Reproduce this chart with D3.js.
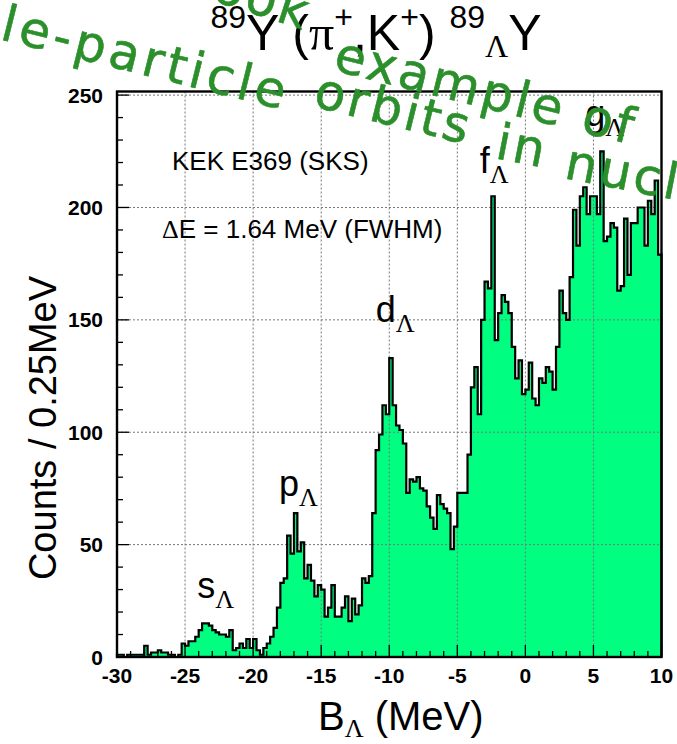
<!DOCTYPE html>
<html>
<head>
<meta charset="utf-8">
<script src="https://cdn.jsdelivr.net/npm/d3@7"></script>
<style>
  html, body { margin: 0; padding: 0; background: #fff; }
  svg { display: block; }
</style>
</head>
<body>
<svg id="chart" width="677" height="744"></svg>
<script>
// ---- data ----
const binStart = -30;            // MeV, left edge of first bin
const binWidth = 0.25;           // MeV per bin
const counts = [
  1,1,0,1,1,1,1,1,5,1,2,2,3,2,2,1,1,0,1,6,
  5,7,7,9,12,15,15,14,12,11,10,10,9,12,3,4,6,4,8,4,
  8,3,1,4,6,9,13,22,33,35,54,46,64,47,51,35,41,34,27,32,
  30,18,22,32,18,18,22,27,16,26,19,23,35,33,36,64,92,99,112,108,
  133,112,103,101,95,73,79,78,80,75,74,67,62,57,72,68,66,64,48,58,
  73,73,73,90,120,129,108,150,167,164,205,141,153,161,158,153,138,124,132,117,
  119,131,115,112,124,122,129,127,119,138,163,153,150,169,199,183,205,209,197,205,
  205,197,225,185,187,193,191,163,165,195,170,193,193,200,200,183,203,197,212,179
];
const xTicks = [-30,-25,-20,-15,-10,-5,0,5,10];
const yTicks = [0,50,100,150,200,250];
const peakLabels = ["s","p","d","f","g"];
const peakPos = [[-24.1,21],[-18.1,66.5],[-11.0,143.6],[-3.35,210],[4.4,231]];

// ---- layout ----
const svg = d3.select("#chart");
const L = 117, R = 661.5, T = 91.5, B = 657;
const x = d3.scaleLinear().domain([-30, 10]).range([L, R]);
const y = d3.scaleLinear().domain([0, 251.6]).range([B, T]);

const bins = counts.map((c, i) => ({ x0: binStart + i * binWidth, x1: binStart + (i + 1) * binWidth, c }));

// step points
const pts = [];
bins.forEach(b => { pts.push([b.x0, b.c]); pts.push([b.x1, b.c]); });

const area = d3.area().x(d => x(d[0])).y0(y(0)).y1(d => y(d[1]));
const line = d3.line().x(d => x(d[0])).y(d => y(d[1]));

svg.append("path").datum(pts).attr("d", area).attr("fill", "#00ff80").attr("stroke", "none");

// grid
const grid = svg.append("g").attr("stroke", "#777").attr("stroke-width", 1).attr("stroke-dasharray", "2,2");
xTicks.slice(1, -1).forEach(v => grid.append("line").attr("x1", x(v)).attr("x2", x(v)).attr("y1", T).attr("y2", B));
yTicks.slice(1).forEach(v => grid.append("line").attr("x1", L).attr("x2", R).attr("y1", y(v)).attr("y2", y(v)));

// outline
const outline = [[binStart, 0]].concat(pts).concat([[binStart + counts.length * binWidth, 0]]);
svg.append("path").datum(outline).attr("d", line).attr("fill", "none").attr("stroke", "#000").attr("stroke-width", 2.2).attr("stroke-linejoin", "miter");

// axes with inner ticks
const xMinor = d3.range(-30, 10.001, 1);
const yMinor = d3.range(0, 251, 10);
const tickG = svg.append("g").attr("stroke", "#000").attr("stroke-width", 1.3);
xMinor.forEach(v => {
  const major = xTicks.includes(v);
  tickG.append("line").attr("x1", x(v)).attr("x2", x(v)).attr("y1", B).attr("y2", B - (major ? 12 : 6));
});
yMinor.forEach(v => {
  const major = yTicks.includes(v);
  tickG.append("line").attr("x1", L).attr("x2", L + (major ? 12 : 6)).attr("y1", y(v)).attr("y2", y(v));
});

// frame
svg.append("rect").attr("x", L).attr("y", T).attr("width", R - L).attr("height", B - T)
  .attr("fill", "none").attr("stroke", "#000").attr("stroke-width", 2.4);

// tick labels
const lab = svg.append("g").attr("font-family", "Liberation Sans, Arial, sans-serif").attr("font-weight", "bold").attr("font-size", 21).attr("fill", "#000");
xTicks.forEach(v => lab.append("text").attr("x", x(v)).attr("y", B + 26).attr("text-anchor", "middle").text(v));
yTicks.forEach(v => lab.append("text").attr("x", 103).attr("y", y(v) + 7.5).attr("text-anchor", "end").text(v));

// axis titles
const xt = svg.append("text").attr("x", 318).attr("y", 730).attr("font-family", "Liberation Sans, Arial, sans-serif").attr("font-size", 40).attr("fill", "#000");
xt.append("tspan").text("B");
xt.append("tspan").attr("font-family", "Liberation Serif, serif").attr("font-size", 26).attr("dy", 7).text("Λ");
xt.append("tspan").attr("dy", -7).text(" (MeV)");

svg.append("text").attr("transform", "translate(56,428) rotate(-90)").attr("text-anchor", "middle")
  .attr("font-family", "Liberation Sans, Arial, sans-serif").attr("font-size", 38).attr("fill", "#000")
  .text("Counts / 0.25MeV");

// in-plot texts
svg.append("text").attr("x", 172).attr("y", 170).attr("font-family", "Liberation Sans, Arial, sans-serif").attr("font-size", 26).text("KEK E369 (SKS)");
const de = svg.append("text").attr("x", 162).attr("y", 238).attr("font-family", "Liberation Sans, Arial, sans-serif").attr("font-size", 26);
de.append("tspan").attr("font-family", "Liberation Serif, serif").text("Δ");
de.append("tspan").text("E = 1.64 MeV (FWHM)");

// peak labels
peakLabels.forEach((p, i) => {
  const t = svg.append("text").attr("x", x(peakPos[i][0])).attr("y", y(peakPos[i][1]) - 12)
    .attr("font-family", "Liberation Sans, Arial, sans-serif").attr("font-size", 36).attr("fill", "#000");
  t.append("tspan").text(p);
  t.append("tspan").attr("font-family", "Liberation Serif, serif").attr("font-size", 26).attr("dy", 10).text("Λ");
});

// title
const title = svg.append("text").attr("x", 376).attr("y", 50).attr("text-anchor", "middle")
  .attr("font-family", "Liberation Sans, Arial, sans-serif").attr("font-size", 50).attr("fill", "#000");
title.append("tspan").attr("font-size", 32).attr("dy", -22).text("89");
title.append("tspan").attr("dy", 22).text("Y (");
title.append("tspan").attr("font-family", "Liberation Serif, serif").text("π");
title.append("tspan").attr("font-size", 32).attr("dy", -22).text("+");
title.append("tspan").attr("dy", 22).text(",K");
title.append("tspan").attr("font-size", 32).attr("dy", -22).text("+");
title.append("tspan").attr("dy", 22).text(") ");
title.append("tspan").attr("font-size", 32).attr("dy", -22).text("89");
title.append("tspan").attr("font-family", "Liberation Serif, serif").attr("font-size", 32).attr("dy", 29).text("Λ");
title.append("tspan").attr("dy", -7).text("Y");

// handwritten overlay
const hw = svg.append("g").attr("font-family", "DejaVu Sans, sans-serif").attr("font-size", 50)
  .attr("fill", "#2b8f2b").attr("stroke", "#2b8f2b").attr("stroke-width", 0.6).attr("stroke-linejoin", "round");
const words = [
  ["Textbook", 70, -46, 18, 3],
  ["example of", 332, 70, 14, 3],
  ["single-particle", -117, 10, 14, 4],
  ["orbits", 312, 106, 14, 3],
  ["in", 494, 158, 11, 3],
  ["nuclei", 563, 178, 11, 3]
];
words.forEach(w => hw.append("text").attr("letter-spacing", w[4])
  .attr("transform", `translate(${w[1]},${w[2]}) rotate(${w[3]})`).text(w[0]));
</script>
</body>
</html>
